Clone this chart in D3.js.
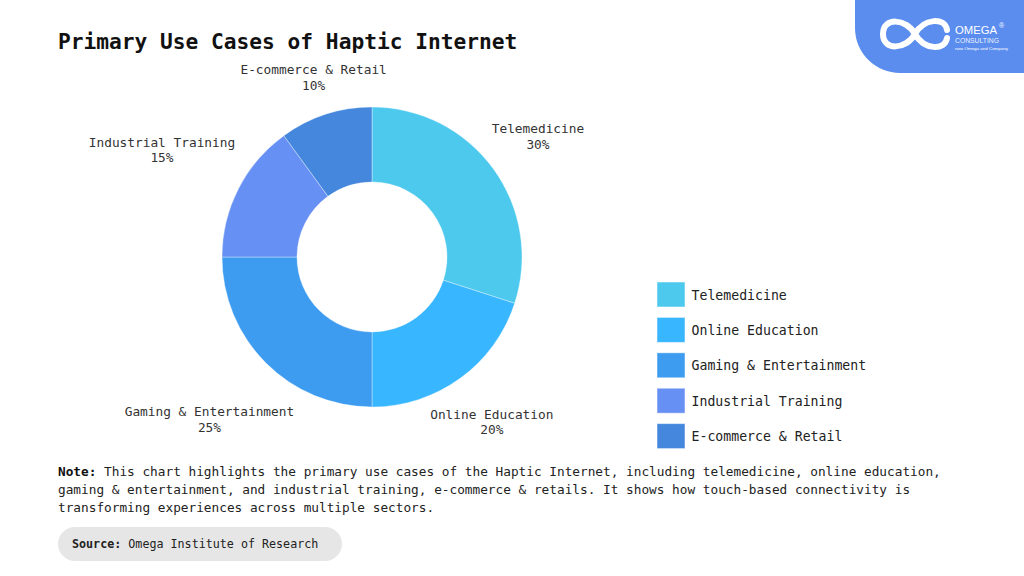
<!DOCTYPE html>
<html>
<head>
<meta charset="utf-8">
<script src="https://cdn.jsdelivr.net/npm/d3@7/dist/d3.min.js"></script>
<style>
  html, body { margin: 0; padding: 0; background: #fff; }
  svg { display: block; }
  .mono { font-family: "DejaVu Sans Mono", "Liberation Mono", monospace; }
</style>
</head>
<body>
<svg id="chart" width="1024" height="576"></svg>
<script>
// Use-case categories and their shares (%)
const categories = ["Telemedicine", "Online Education", "Gaming & Entertainment", "Industrial Training", "E-commerce & Retail"];
const shares = [30, 20, 25, 15, 10];
const colors = ["#4DC9EE", "#38B6FF", "#3D9BF0", "#6690F4", "#4487DD"];

const titleText = "Primary Use Cases of Haptic Internet";
const noteLines = [
  ["Note:", " This chart highlights the primary use cases of the Haptic Internet, including telemedicine, online education,"],
  ["", "gaming & entertainment, and industrial training, e-commerce & retails. It shows how touch-based connectivity is"],
  ["", "transforming experiences across multiple sectors."]
];
const sourceLabel = "Source:";
const sourceText = " Omega Institute of Research";

const svg = d3.select("#chart");

// ---- Brand badge (top right) ----
const badge = svg.append("g");
badge.append("path")
  .attr("d", "M855,0 H1024 V73 H900 A45,45 0 0 1 855,28 Z")
  .attr("fill", "#5B8DEF");
const ix = 915, iy = 34;
badge.append("path")
  .attr("d", `M${ix},${iy} C${ix+9},${iy-16} ${ix+30},${iy-17} ${ix+32},${iy-4}
              M${ix+32},${iy+4} C${ix+30},${iy+17} ${ix+9},${iy+16} ${ix},${iy}
              C${ix-9},${iy-16} ${ix-32},${iy-17} ${ix-32},${iy}
              C${ix-32},${iy+17} ${ix-9},${iy+16} ${ix},${iy}`)
  .attr("fill", "none").attr("stroke", "#fff").attr("stroke-width", 6).attr("stroke-linecap", "round");
const brandFont = "Liberation Sans, Arial, sans-serif";
badge.append("text").attr("x", 955).attr("y", 33.5)
  .attr("font-family", brandFont).attr("font-size", 11)
  .attr("textLength", 42).attr("lengthAdjust", "spacingAndGlyphs")
  .attr("fill", "#fff").text("OMEGA");
badge.append("text").attr("x", 999).attr("y", 28)
  .attr("font-family", brandFont).attr("font-size", 7)
  .attr("fill", "#fff").text("®");
badge.append("text").attr("x", 955).attr("y", 42.5)
  .attr("font-family", brandFont).attr("font-size", 6.5)
  .attr("textLength", 44).attr("lengthAdjust", "spacingAndGlyphs")
  .attr("fill", "#fff").attr("fill-opacity", 0.9).text("CONSULTING");
badge.append("text").attr("x", 955).attr("y", 49.5)
  .attr("font-family", brandFont).attr("font-size", 3.5)
  .attr("textLength", 53).attr("lengthAdjust", "spacingAndGlyphs")
  .attr("fill", "#fff").text("now Omega and Company");

// ---- Title ----
svg.append("text").attr("class", "mono")
  .attr("x", 58).attr("y", 49)
  .attr("font-size", 21.2).attr("font-weight", "bold").attr("fill", "#111")
  .text(titleText);

// ---- Donut ----
const cx = 372, cy = 257, outerR = 150, innerR = 75;
const data = categories.map((c, i) => ({ name: c, value: shares[i], color: colors[i] }));
const pie = d3.pie().value(d => d.value).sort(null);
const arc = d3.arc().innerRadius(innerR).outerRadius(outerR);
const arcs = pie(data);

const g = svg.append("g").attr("transform", `translate(${cx},${cy})`);
g.selectAll("path.slice").data(arcs).join("path")
  .attr("class", "slice")
  .attr("d", arc)
  .attr("fill", d => d.data.color)
  .attr("stroke", "#ffffff").attr("stroke-width", 0.6).attr("stroke-opacity", 0.6);

// Outside labels: pushed radially so the text block clears the ring
const labelFont = 12.8, lineGap = 15.5;
const labels = g.selectAll("g.lbl").data(arcs).join("g").attr("class", "lbl");
labels.each(function (d) {
  const sel = d3.select(this);
  const t1 = sel.append("text").attr("class", "mono").attr("text-anchor", "middle")
    .attr("font-size", labelFont).attr("fill", "#333").text(d.data.name);
  const t2 = sel.append("text").attr("class", "mono").attr("text-anchor", "middle")
    .attr("font-size", labelFont).attr("fill", "#333").text(d.data.value + "%");
  const w = t1.node().getComputedTextLength();
  const a = (d.startAngle + d.endAngle) / 2;
  const s = Math.sin(a), c = Math.cos(a);
  const dist = outerR + 14 + 1.1 * Math.abs(s) * w / 2;
  const x = dist * s, y = -dist * c;
  t1.attr("x", x).attr("y", y - lineGap / 2 + 4.5);
  t2.attr("x", x).attr("y", y + lineGap / 2 + 4.5);
});

// ---- Legend ----
const legendY = d3.scaleBand().domain(categories).range([282, 459]).paddingInner(0);
const legend = svg.append("g");
const rows = legend.selectAll("g").data(data).join("g")
  .attr("transform", d => `translate(657,${legendY(d.name)})`);
rows.append("rect").attr("width", 28).attr("height", 25)
  .attr("fill", d => d.color).attr("stroke", "#fff").attr("stroke-opacity", 0.5).attr("stroke-width", 1);
rows.append("text").attr("class", "mono")
  .attr("x", 34.5).attr("y", 12.5 + 5)
  .attr("font-size", 13.2).attr("fill", "#222")
  .text(d => d.name);

// ---- Note ----
const note = svg.append("g");
noteLines.forEach((ln, i) => {
  const t = note.append("text").attr("class", "mono")
    .attr("x", 58).attr("y", 476 + i * 17.8)
    .attr("font-size", 12.75).attr("fill", "#222");
  if (ln[0]) t.append("tspan").attr("font-weight", "bold").attr("fill", "#111").text(ln[0]);
  t.append("tspan").text(ln[1]);
});

// ---- Source pill ----
svg.append("rect").attr("x", 58).attr("y", 527).attr("width", 284).attr("height", 34)
  .attr("rx", 17).attr("fill", "#E6E6E6");
const src = svg.append("text").attr("class", "mono")
  .attr("x", 72).attr("y", 548).attr("font-size", 11.7).attr("fill", "#222");
src.append("tspan").attr("font-weight", "bold").text(sourceLabel);
src.append("tspan").text(sourceText);
</script>
</body>
</html>
